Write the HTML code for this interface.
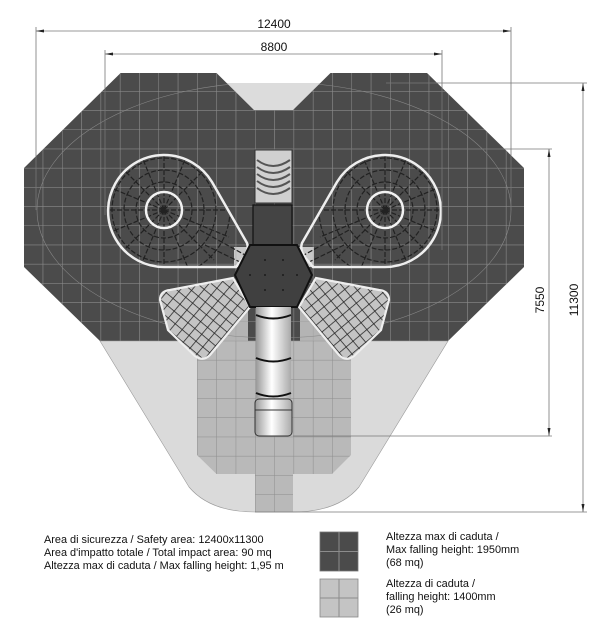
<!DOCTYPE html>
<html><head><meta charset="utf-8"><style>
html,body{margin:0;padding:0;background:#fff;}
svg{display:block;}
text{font-family:"Liberation Sans",sans-serif;fill:#111;}
</style></head><body>
<svg width="603" height="640" viewBox="0 0 603 640" xmlns="http://www.w3.org/2000/svg">
<defs>
<clipPath id="cd"><path d="M24,168 L120.6,73 L216.5,73 L254,110 L293,110 L330.5,73 L427,73 L524,168 L524,267 L448,341 L100,341 L24,267 Z"/></clipPath>
<clipPath id="cm"><path d="M197,341 L351,341 L351,455 L332,474 L293,474 L293,512 L255,512 L255,474 L216.5,474 L197,455 Z"/></clipPath>
<clipPath id="cw"><path d="M164,267 A56,56 0 1 1 212,182 L247,243 Q250,252 240,262 L236,267 Z"/></clipPath>
<clipPath id="cp"><path d="M160,300 Q160,291 170,290 L233,278 L250,307 L210,355 Q203,362 195,356 L168,330 Z"/></clipPath>
<linearGradient id="tube" x1="0" x2="1"><stop offset="0" stop-color="#999"/><stop offset="0.45" stop-color="#fff"/><stop offset="1" stop-color="#aaa"/></linearGradient>
<pattern id="g1" x="255" y="340.7" width="19.3" height="19.2" patternUnits="userSpaceOnUse"><path d="M0,0 H19.3 M0,0 V19.2" stroke="#8c8c8c" stroke-width="1" fill="none"/></pattern>
<pattern id="net" width="9" height="9" patternUnits="userSpaceOnUse" patternTransform="rotate(40)"><path d="M0,0 H9 M0,0 V9" stroke="#222" stroke-width="1.5" fill="none"/></pattern>
</defs>

<path d="M100,341 L189,487 Q210,512 255,512 L293,512 Q338,512 359,487 L448,341 Z" fill="#dadada" stroke="#999" stroke-width="0.6"/>
<path d="M226,83 L323,83 L293,110 L254,110 Z" fill="#dcdcdc"/>
<path d="M24,168 L120.6,73 L216.5,73 L254,110 L293,110 L330.5,73 L427,73 L524,168 L524,267 L448,341 L100,341 L24,267 Z" fill="#4b4b4b"/>
<g clip-path="url(#cd)"><rect x="0" y="0" width="603" height="360" fill="url(#g1)"/>
<rect x="178" y="303" width="70" height="40" fill="#b4b4b4"/><rect x="300" y="303" width="70" height="40" fill="#b4b4b4"/>
<rect x="234" y="247" width="16" height="20" fill="#c8c8c8"/><rect x="298" y="247" width="16" height="20" fill="#c8c8c8"/>
<rect x="0" y="0" width="603" height="360" fill="url(#g1)" opacity="0.5"/>
<ellipse cx="274" cy="210" rx="237" ry="128" fill="none" stroke="#888" stroke-width="0.6"/>
</g>
<path d="M197,341 L351,341 L351,455 L332,474 L293,474 L293,512 L255,512 L255,474 L216.5,474 L197,455 Z" fill="#b9b9b9"/>
<g clip-path="url(#cm)"><rect x="0" y="330" width="603" height="200" fill="url(#g1)"/></g>

<g id="wing">
<g clip-path="url(#cw)" stroke="#222" stroke-width="1.2" fill="none" stroke-dasharray="5,2">
<circle cx="164" cy="210" r="28"/><circle cx="164" cy="210" r="40"/><circle cx="164" cy="210" r="52"/><circle cx="164" cy="210" r="66"/>
<path d="M164,210 L164,140 M164,210 L164,280 M164,210 L94,210 M164,210 L234,210 M164,210 L114,160 M164,210 L214,160 M164,210 L114,260 M164,210 L214,260 M164,210 L137,145 M164,210 L191,145 M164,210 L99,183 M164,210 L99,237 M164,210 L137,275 M164,210 L191,275 M164,210 L229,237"/>
<path d="M200,230 L245,255 M205,245 L240,262" />
</g>
<path d="M164,267 A56,56 0 1 1 212,182 L247,243 Q250,252 240,262 L236,267 Z" fill="none" stroke="#eee" stroke-width="2.5"/>
<circle cx="164" cy="210" r="18" fill="none" stroke="#f2f2f2" stroke-width="2.5"/>
<path d="M160,300 Q160,291 170,290 L233,278 L250,307 L210,355 Q203,362 195,356 L168,330 Z" fill="#c4c4c4"/>
<g clip-path="url(#cp)"><rect x="140" y="260" width="130" height="110" fill="url(#net)"/></g>
<path d="M160,300 Q160,291 170,290 L233,278 L250,307 L210,355 Q203,362 195,356 L168,330 Z" fill="none" stroke="#eee" stroke-width="2.2"/>
</g>
<use href="#wing" transform="translate(549,0) scale(-1,1)"/>

<rect x="255" y="150" width="37" height="53" fill="#d0d0d0" stroke="#333" stroke-width="1"/>
<g fill="none" stroke="#555" stroke-width="2">
<path d="M257,160 Q273,172 290,160"/><path d="M257,167 Q273,179 290,167"/><path d="M257,174 Q273,186 290,174"/><path d="M257,181 Q273,193 290,181"/><path d="M257,188 Q273,200 290,188"/>
</g>
<rect x="253" y="205" width="39" height="40" fill="#444" stroke="#111" stroke-width="1.2"/>
<path d="M250,245 L297,245 L312,275 L297,307 L250,307 L235,275 Z" fill="#404040" stroke="#111" stroke-width="2"/>
<g fill="#111"><circle cx="265" cy="260" r="0.9"/><circle cx="283" cy="260" r="0.9"/><circle cx="265" cy="275" r="0.9"/><circle cx="283" cy="275" r="0.9"/><circle cx="265" cy="290" r="0.9"/><circle cx="283" cy="290" r="0.9"/><circle cx="250" cy="275" r="0.9"/><circle cx="297" cy="275" r="0.9"/></g>
<rect x="256" y="307" width="35" height="91" fill="url(#tube)"/>
<g fill="none" stroke="#111" stroke-width="2"><path d="M256,315 Q273,322 291,315"/><path d="M256,358 Q273,365 291,358"/><path d="M256,393 Q273,400 291,393"/></g>
<rect x="255" y="399" width="37" height="37" rx="4" fill="url(#tube)" stroke="#333" stroke-width="1"/>
<line x1="255" y1="410" x2="292" y2="410" stroke="#333" stroke-width="1"/>

<g stroke="#777" stroke-width="0.8" fill="none">
<line x1="36" y1="31" x2="511" y2="31"/><line x1="36" y1="27" x2="36" y2="210"/><line x1="511" y1="27" x2="511" y2="210"/>
<line x1="105" y1="54" x2="442" y2="54"/><line x1="105" y1="50" x2="105" y2="215"/><line x1="442" y1="50" x2="442" y2="250"/>
<line x1="386" y1="83" x2="587" y2="83"/><line x1="583" y1="83" x2="583" y2="512"/><line x1="255" y1="512" x2="587" y2="512"/>
<line x1="293" y1="149" x2="552" y2="149"/><line x1="549" y1="149" x2="549" y2="436"/><line x1="293" y1="436" x2="552" y2="436"/>
</g>
<g fill="#222">
<path d="M36,31 l8,-1.5 v3 z"/><path d="M511,31 l-8,-1.5 v3 z"/>
<path d="M105,54 l8,-1.5 v3 z"/><path d="M442,54 l-8,-1.5 v3 z"/>
<path d="M583,83 l-1.5,8 h3 z"/><path d="M583,512 l-1.5,-8 h3 z"/>
<path d="M549,149 l-1.5,8 h3 z"/><path d="M549,436 l-1.5,-8 h3 z"/>
</g>
<text x="274" y="28" font-size="12" text-anchor="middle">12400</text>
<text x="274" y="51" font-size="12" text-anchor="middle">8800</text>
<text transform="translate(578,300) rotate(-90)" font-size="12" text-anchor="middle">11300</text>
<text transform="translate(544,300) rotate(-90)" font-size="12" text-anchor="middle">7550</text>

<g font-size="10.9">
<text x="44" y="543">Area di sicurezza / Safety area: 12400x11300</text>
<text x="44" y="556">Area d'impatto totale / Total impact area: 90 mq</text>
<text x="44" y="569">Altezza max di caduta / Max falling height: 1,95 m</text>
<text x="386" y="540">Altezza max di caduta /</text>
<text x="386" y="553">Max falling height: 1950mm</text>
<text x="386" y="566">(68 mq)</text>
<text x="386" y="587">Altezza di caduta /</text>
<text x="386" y="600">falling height: 1400mm</text>
<text x="386" y="613">(26 mq)</text>
</g>
<rect x="320" y="532" width="38" height="39" fill="#4b4b4b" stroke="#777" stroke-width="0.8"/>
<path d="M339,532 V571 M320,551.5 H358" stroke="#8c8c8c" stroke-width="1"/>
<rect x="320" y="579" width="38" height="38" fill="#c4c4c4" stroke="#888" stroke-width="0.8"/>
<path d="M339,579 V617 M320,598 H358" stroke="#8c8c8c" stroke-width="1"/>
</svg>
</body></html>
